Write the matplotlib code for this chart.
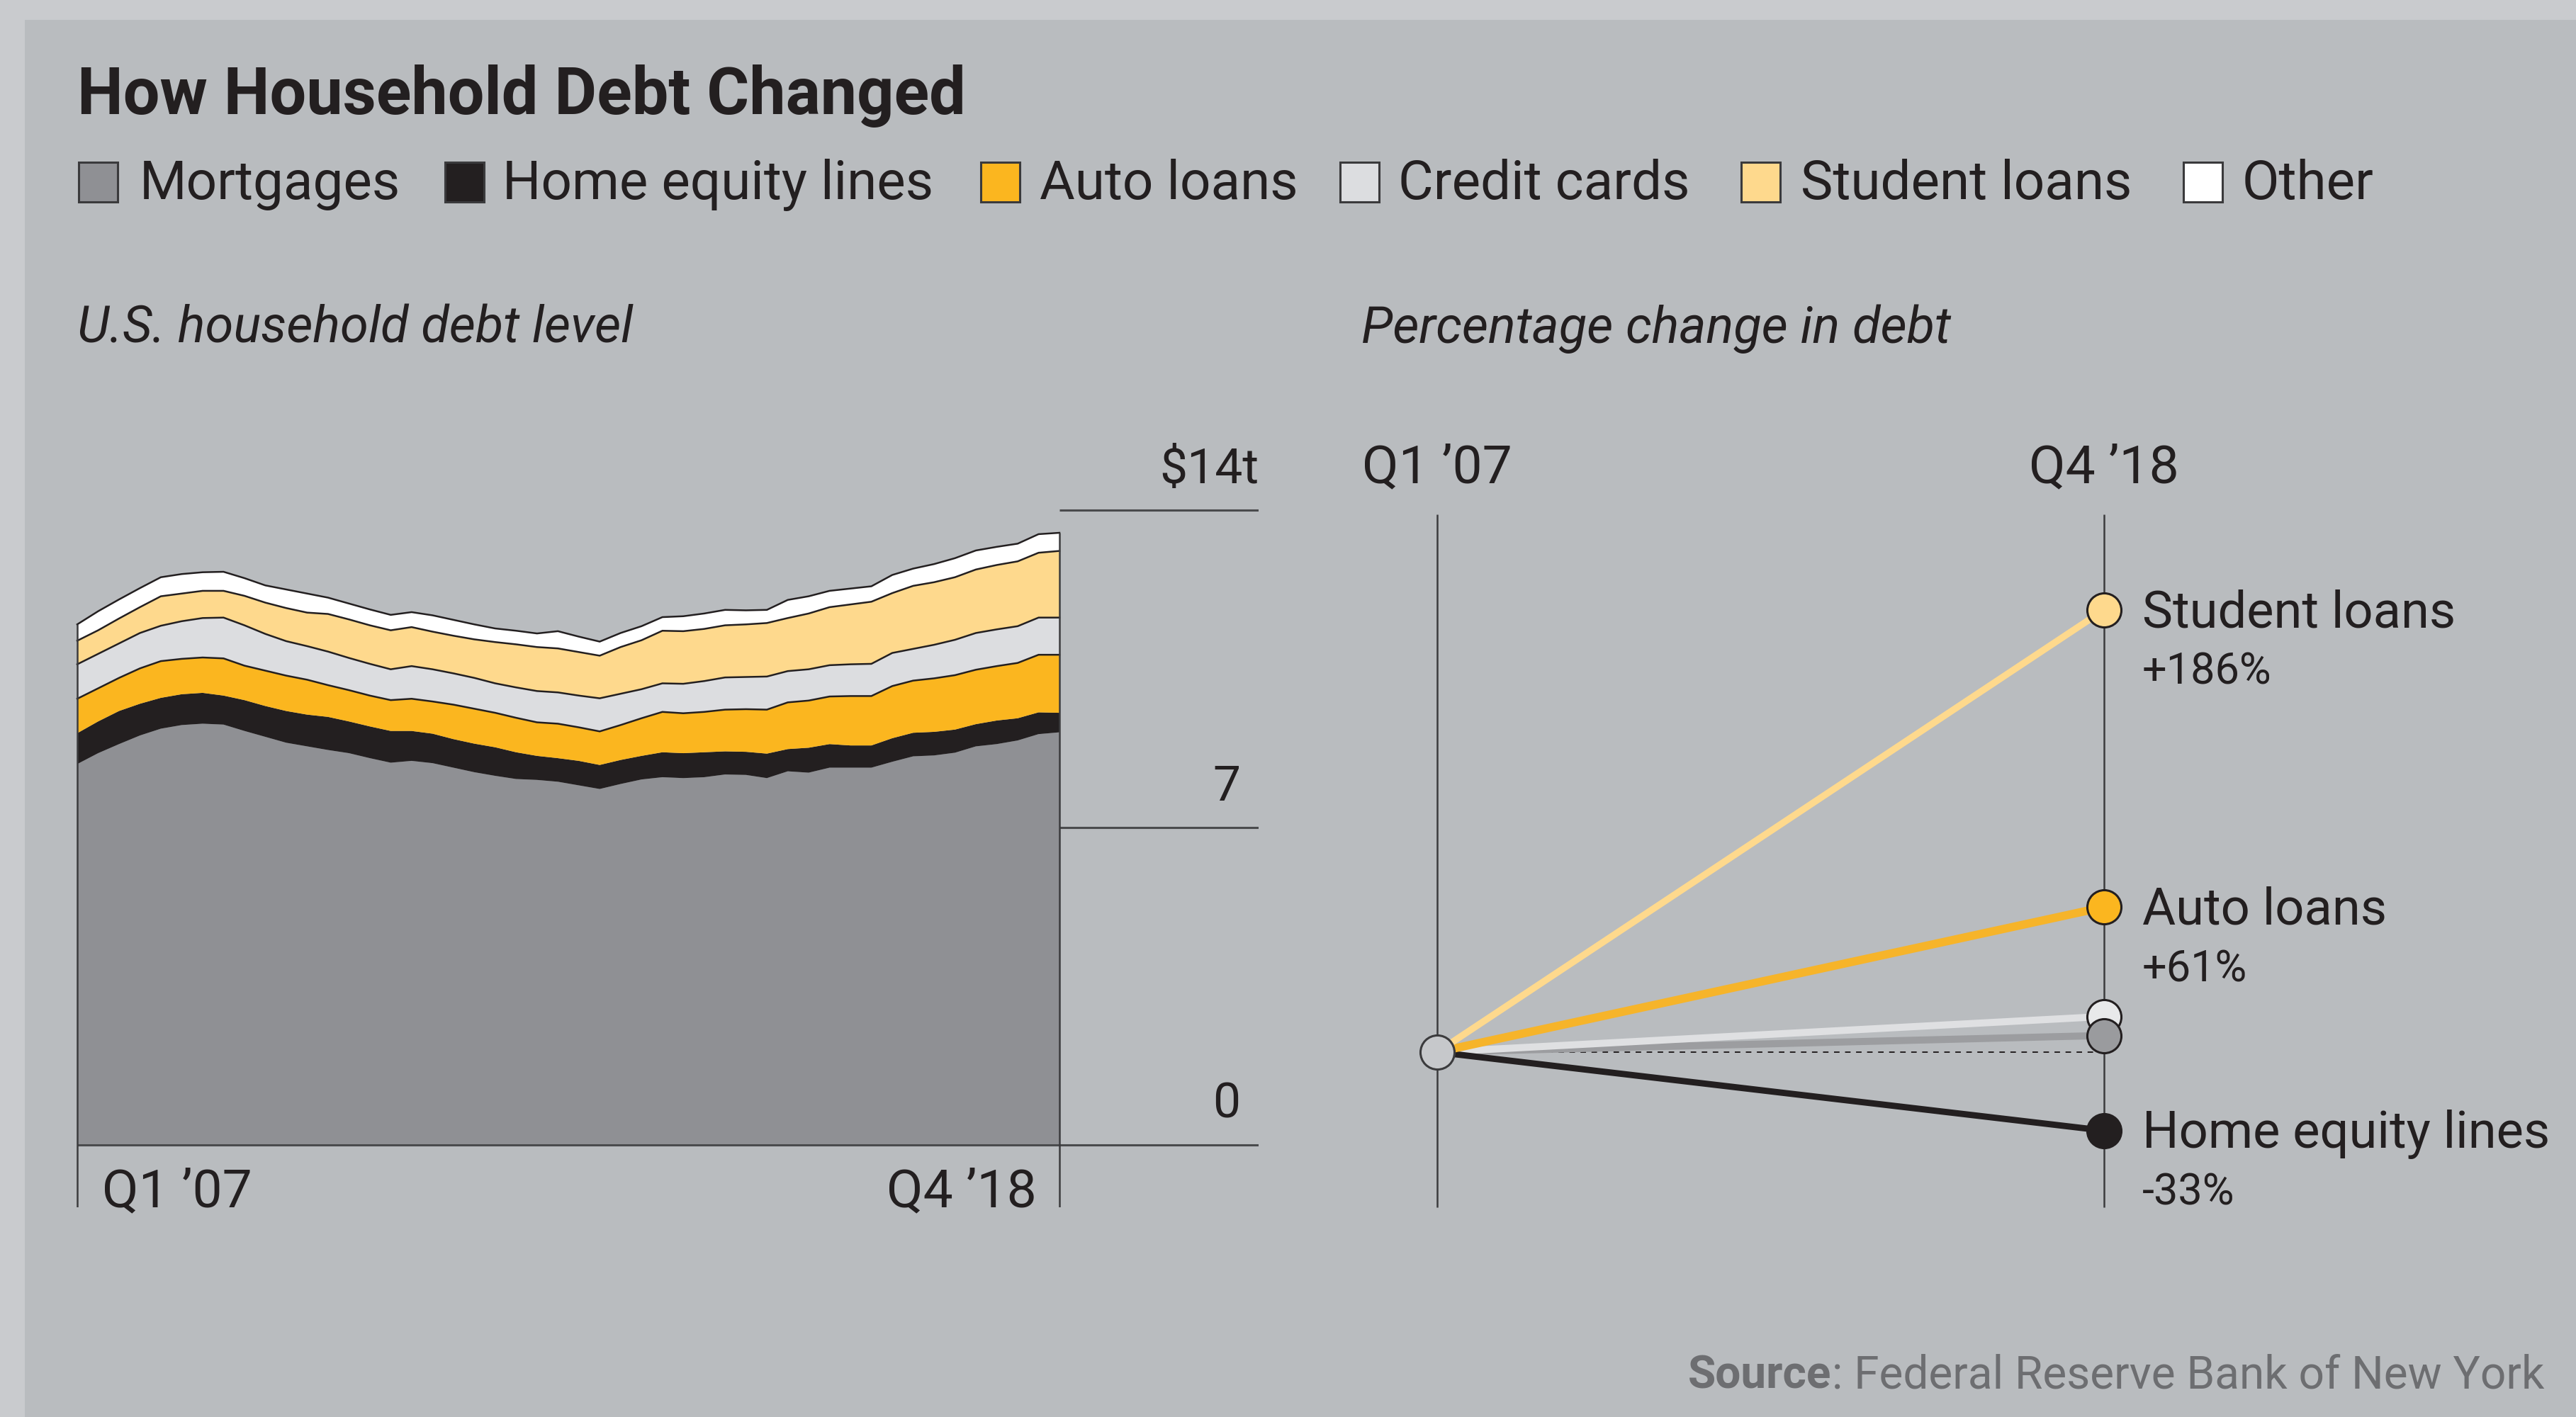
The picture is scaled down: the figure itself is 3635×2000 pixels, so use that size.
import matplotlib
matplotlib.use("Agg")
import matplotlib.pyplot as plt
from matplotlib.patches import Rectangle
import numpy as np

plt.rcParams['font.family'] = ['Roboto', 'DejaVu Sans']

# ---------------- data ----------------
quarters = [f"Q{q} {y}" for y in range(2007, 2019) for q in range(1, 5)]

# U.S. household debt by type, trillions of dollars (Q1 2007 .. Q4 2018)
mortgages = [8.40, 8.64, 8.84, 9.03, 9.18, 9.26, 9.29, 9.27, 9.13, 9.00, 8.87, 8.79,
             8.71, 8.64, 8.53, 8.43, 8.47, 8.42, 8.32, 8.22, 8.14, 8.07, 8.05, 8.01,
             7.93, 7.85, 7.96, 8.06, 8.11, 8.09, 8.11, 8.17, 8.16, 8.09, 8.24, 8.21,
             8.32, 8.32, 8.32, 8.45, 8.57, 8.59, 8.65, 8.79, 8.84, 8.92, 9.06, 9.10]
home_equity = [0.68, 0.70, 0.73, 0.70, 0.68, 0.68, 0.68, 0.64, 0.68, 0.68, 0.70, 0.70,
               0.73, 0.70, 0.70, 0.70, 0.66, 0.65, 0.63, 0.63, 0.63, 0.59, 0.53, 0.52,
               0.54, 0.53, 0.53, 0.52, 0.55, 0.55, 0.55, 0.51, 0.51, 0.54, 0.49, 0.55,
               0.52, 0.49, 0.49, 0.52, 0.52, 0.52, 0.51, 0.49, 0.52, 0.49, 0.48, 0.43]
auto_loans = [0.76, 0.73, 0.73, 0.78, 0.81, 0.78, 0.78, 0.82, 0.76, 0.78, 0.78, 0.77,
              0.70, 0.69, 0.68, 0.68, 0.71, 0.71, 0.76, 0.77, 0.76, 0.76, 0.74, 0.76,
              0.74, 0.74, 0.77, 0.83, 0.89, 0.88, 0.89, 0.92, 0.94, 0.97, 1.03, 1.04,
              1.05, 1.09, 1.09, 1.15, 1.15, 1.18, 1.20, 1.20, 1.20, 1.22, 1.27, 1.28]
credit_cards = [0.76, 0.76, 0.76, 0.78, 0.78, 0.83, 0.87, 0.90, 0.89, 0.81, 0.76, 0.74,
                0.74, 0.71, 0.70, 0.68, 0.72, 0.71, 0.69, 0.68, 0.65, 0.67, 0.69, 0.69,
                0.70, 0.73, 0.69, 0.64, 0.63, 0.65, 0.68, 0.71, 0.71, 0.73, 0.69, 0.69,
                0.69, 0.70, 0.71, 0.73, 0.70, 0.74, 0.78, 0.81, 0.81, 0.81, 0.82, 0.82]
student_loans = [0.52, 0.52, 0.55, 0.57, 0.65, 0.61, 0.60, 0.59, 0.65, 0.69, 0.73, 0.74,
                 0.83, 0.85, 0.85, 0.86, 0.86, 0.83, 0.83, 0.85, 0.91, 0.95, 0.97, 0.97,
                 0.96, 0.94, 1.03, 1.08, 1.16, 1.16, 1.15, 1.15, 1.16, 1.18, 1.17, 1.23,
                 1.28, 1.32, 1.37, 1.32, 1.39, 1.38, 1.38, 1.40, 1.42, 1.43, 1.43, 1.47]
other = [0.36, 0.42, 0.42, 0.42, 0.42, 0.43, 0.41, 0.42, 0.39, 0.38, 0.41, 0.42,
         0.36, 0.35, 0.35, 0.34, 0.33, 0.36, 0.35, 0.33, 0.30, 0.30, 0.30, 0.38,
         0.34, 0.31, 0.31, 0.31, 0.30, 0.33, 0.34, 0.34, 0.31, 0.29, 0.40, 0.38,
         0.36, 0.35, 0.34, 0.40, 0.38, 0.40, 0.42, 0.42, 0.40, 0.39, 0.41, 0.40]

level_ticks = [0, 7, 14]
level_tick_labels = ["0", "7", "$14t"]
period_labels = ["Q1 \u201907", "Q4 \u201918"]

# Percentage change in debt, Q1 2007 -> Q4 2018
change_categories = ["Student loans", "Auto loans", "Credit cards", "Mortgages", "Home equity lines"]
change_pct = [186, 61, 15, 7, -33]
labelled = ["Student loans", "Auto loans", "Home equity lines"]

legend_names = ["Mortgages", "Home equity lines", "Auto loans", "Credit cards",
                "Student loans", "Other"]

# ---------------- style ----------------
INK = '#231f20'
colors = {
    "Mortgages": '#8f9094',
    "Home equity lines": '#231f20',
    "Auto loans": '#fbb61f',
    "Credit cards": '#dcdde0',
    "Student loans": '#fed98d',
    "Other": '#ffffff',
}
line_colors = {
    "Student loans": '#fed98d',
    "Auto loans": '#f6b42a',
    "Credit cards": '#dfe0e2',
    "Mortgages": '#9c9da0',
    "Home equity lines": '#231f20',
}

W, H, DPI = 3635, 2000, 200
fig = plt.figure(figsize=(W / DPI, H / DPI), dpi=DPI, facecolor='#c9cbce')


def fx(px):
    return px / W


def fy(py):
    return 1 - py / H


# inner panel
fig.add_artist(Rectangle((fx(35), 0), 1 - fx(35), fy(28), transform=fig.transFigure,
                         facecolor='#b9bcbf', edgecolor='none', zorder=0))

# title
fig.text(fx(109), fy(161), "How Household Debt Changed", fontsize=33, fontweight='bold',
         color=INK, va='baseline', ha='left')

# legend row
sq_x = [111, 628, 1384, 1891, 2457, 3081]
tx_x = [197, 709, 1467, 1973, 2541, 3164]
for name, sx, tx in zip(legend_names, sq_x, tx_x):
    fig.add_artist(Rectangle((fx(sx), fy(285)), 55 / W, 56 / H, transform=fig.transFigure,
                             facecolor=colors[name], edgecolor='#3a3a3c', linewidth=1.1,
                             zorder=3))
    fig.text(fx(tx), fy(281), name, fontsize=27.5, color=INK, va='baseline', ha='left')

# subtitles
fig.text(fx(109), fy(484), "U.S. household debt level", fontsize=26, style='italic',
         color=INK, va='baseline', ha='left')
fig.text(fx(1921), fy(484), "Percentage change in debt", fontsize=26, style='italic',
         color=INK, va='baseline', ha='left')

# source line: bold "Source" followed by the regular text, right-aligned
src = fig.text(fx(3590), fy(1960), ": Federal Reserve Bank of New York", fontsize=23,
               color='#6d6e71', va='baseline', ha='right')
fig.canvas.draw()
bb = src.get_window_extent()
fig.text(bb.x0 / W, fy(1960), "Source", fontsize=23, fontweight='bold', color='#6d6e71',
         va='baseline', ha='right')

# ---------------- left: stacked area ----------------
QPX = 1386 / 47          # pixels per quarter
UPX = 64                 # pixels per trillion
axL = fig.add_axes([fx(90), fy(1704), (1776 - 90) / W, (1704 - 700) / H])
axL.set_xlim(-19 / QPX, (1776 - 109) / QPX)
axL.set_ylim(-88 / UPX, (1616 - 700) / UPX)
axL.axis('off')
axL.patch.set_alpha(0)


def lx(px):
    return (px - 109) / QPX


x = np.arange(len(quarters))
layers = [mortgages, home_equity, auto_loans, credit_cards, student_loans, other]
tops = np.cumsum(np.array(layers), axis=0)
bottoms = np.vstack([np.zeros(len(x)), tops[:-1]])
for name, lo, hi in zip(legend_names, bottoms, tops):
    axL.fill_between(x, lo, hi, facecolor=colors[name], edgecolor='none', lw=0, zorder=2)
for k in [2, 3, 4, 5]:
    axL.plot(x, tops[k], color=INK, lw=0.9, zorder=3, solid_joinstyle='miter')

xmax = lx(1776)
axL.hlines(0, 0, xmax, color='#4a4b4d', lw=1.1, zorder=4)
for t in level_ticks[1:]:
    axL.hlines(t, x[-1], xmax, color='#4a4b4d', lw=1.1, zorder=4)
axL.vlines([x[0], x[-1]], -88 / UPX, [tops[-1][0], tops[-1][-1]], color='#3b3b3d',
           lw=0.9, zorder=4)

for t, lab in zip(level_ticks, level_tick_labels):
    xr = xmax if lab.endswith('t') else lx(1750)
    axL.text(xr, t + 0.6, lab, fontsize=25, color=INK, ha='right', va='baseline')

axL.text(lx(144), -87 / UPX, period_labels[0], fontsize=27, color=INK, ha='left',
         va='baseline')
axL.text(lx(1463), -87 / UPX, period_labels[1], fontsize=27, color=INK, ha='right',
         va='baseline')

# ---------------- right: percentage change slope ----------------
XPX = 941
PPX = 3.356
axR = fig.add_axes([fx(1850), fy(1760), (3635 - 1850) / W, (1760 - 600) / H])
axR.set_xlim((1850 - 2028) / XPX, (3635 - 2028) / XPX)
axR.set_ylim((1485 - 1760) / PPX, (1485 - 600) / PPX)
axR.axis('off')
axR.patch.set_alpha(0)


def ry(py):
    return (1485 - py) / PPX


axR.vlines([0, 1], ry(1704), ry(726), color='#3b3b3d', lw=0.9, zorder=1)
axR.text(0, ry(661), period_labels[0], fontsize=27, color=INK, ha='center', va='center')
axR.text(1, ry(661), period_labels[1], fontsize=27, color=INK, ha='center', va='center')

axR.plot([0, 1], [0, 0], color=INK, lw=0.7, ls=(0, (4, 4)), zorder=2)

draw_order = ["Mortgages", "Credit cards", "Home equity lines", "Auto loans", "Student loans"]
widths = {"Student loans": 3.4, "Auto loans": 4.2, "Credit cards": 3.6, "Mortgages": 3.6,
          "Home equity lines": 3.2}
pct_of = dict(zip(change_categories, change_pct))
for z, name in enumerate(draw_order):
    axR.plot([0, 1], [0, pct_of[name]], color=line_colors[name], lw=widths[name],
             solid_capstyle='butt', zorder=3 + z)

marker_order = ["Credit cards", "Mortgages", "Home equity lines", "Auto loans", "Student loans"]
marker_fill = {"Student loans": '#fed98d', "Auto loans": '#fbb61f', "Credit cards": '#e8e9ea',
               "Mortgages": '#9a9b9e', "Home equity lines": '#231f20'}
for z, name in enumerate(marker_order):
    axR.plot([1], [pct_of[name]], 'o', ms=17.3, mfc=marker_fill[name], mec=INK, mew=1.1,
             zorder=10 + z)
axR.plot([0], [0], 'o', ms=17.3, mfc='#c6c8cb', mec='#3b3b3d', mew=1.1, zorder=20)

lab_x = (3023 - 2028) / XPX
for name in labelled:
    p = pct_of[name]
    axR.text(lab_x, p - 5 / PPX, name, fontsize=26, color=INK, ha='left', va='center')
    sign = '+' if p > 0 else '-'
    axR.text(lab_x, p - 88 / PPX, f"{sign}{abs(p)}%", fontsize=22, color=INK,
             ha='left', va='center')

fig.savefig('out.png', dpi=DPI, facecolor=fig.get_facecolor())
